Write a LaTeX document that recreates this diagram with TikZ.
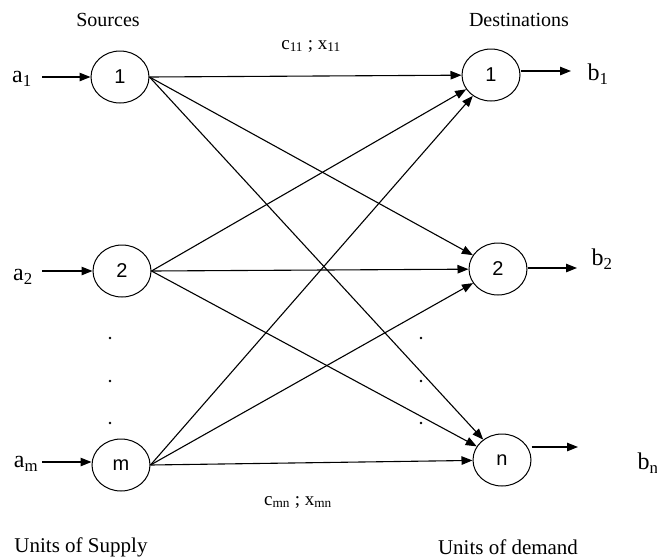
\documentclass[tikz,border=0pt]{standalone}
\usepackage{fontspec}
\setmainfont{Liberation Serif}
\newfontfamily\numfont{Liberation Sans}
\usetikzlibrary{arrows.meta,shapes.geometric}
\begin{document}
\begin{tikzpicture}[x=1pt,y=-1pt,
  place/.style={draw, ellipse, line width=1pt, minimum width=58pt, minimum height=52pt, inner sep=0pt, font=\numfont\fontsize{20}{22}\selectfont},
  flow/.style={line width=1.1pt, -{Triangle[length=11pt,width=8.5pt]}},
  lab/.style={font=\fontsize{24}{26}\selectfont, inner sep=0pt},
  head/.style={font=\fontsize{20}{22}\selectfont, inner sep=0pt},
  foot/.style={font=\fontsize{21}{23}\selectfont, inner sep=0pt},
  cost/.style={font=\fontsize{19}{21}\selectfont, inner sep=0pt},
  dot/.style={fill=black, draw=none}
]
\useasboundingbox (0,0) rectangle (657,558);
\fill[white] (0,0) rectangle (657,558);

% nodes
\node[place] (s1) at (120,77) {1};
\node[place] (s2) at (122,271) {2};
\node[place] (sm) at (121,465) {m};
\node[place] (d1) at (491,75) {1};
\node[place] (d2) at (498,269) {2};
\node[place] (dn) at (502,460) {n};

% headings
\node[head] (hs) at (108,20) {Sources};
\node[head] (hd) at (519,20) {Destinations};
\node[foot] (us) at (81,547) {Units of Supply};
\node[foot] (ud) at (508,547) {Units of demand};
\node[cost] (c11) at (311,46) {c\textsubscript{11} ; x\textsubscript{11}};
\node[cost] (cmn) at (298,502) {c\textsubscript{mn} ; x\textsubscript{mn}};

% supplies
\node[lab] (a1) at (22,79) {a\textsubscript{1}};
\node[lab] (a2) at (23,277) {a\textsubscript{2}};
\node[lab] (am) at (26,464) {a\textsubscript{m}};
\coordinate (a1s) at (42,77);
\coordinate (a2s) at (42,271);
\coordinate (ams) at (42,462);
\draw[flow] (a1s) -- (s1.west);
\draw[flow] (a2s) -- (s2.west);
\draw[flow] (ams) -- (sm.west |- ams);

% demands
\node[lab] (b1) at (598,74) {b\textsubscript{1}};
\node[lab] (b2) at (602,259) {b\textsubscript{2}};
\node[lab] (bn) at (648,463) {b\textsubscript{n}};
\coordinate (b1e) at (571,71);
\coordinate (b2e) at (577,268);
\coordinate (bne) at (578,447);
\draw[flow] (d1.east |- b1e) -- (b1e);
\draw[flow] (d2.east |- b2e) -- (b2e);
\draw[flow] (dn.east |- bne) -- (bne);

% flows
\foreach \s in {s1,s2,sm}{
  \foreach \d in {d1,d2,dn}{
    \draw[flow] (\s.east) -- (\d);
  }
}

% dots
\foreach \y in {338,381,423}{
  \fill[dot] (110,\y) circle (1.3pt);
  \fill[dot] (421,\y) circle (1.3pt);
}
\end{tikzpicture}
\end{document}
